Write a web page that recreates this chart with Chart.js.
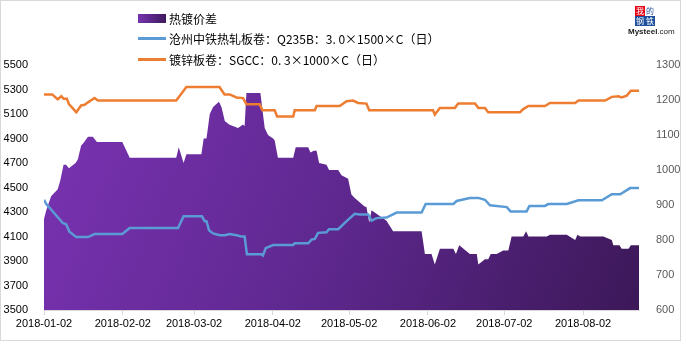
<!DOCTYPE html>
<html>
<head>
<meta charset="utf-8">
<script src="https://cdn.jsdelivr.net/npm/chart.js@4.4.1/dist/chart.umd.min.js"></script>
<style>
  html, body { margin: 0; padding: 0; background: #fff; }
  #wrap { position: relative; width: 682px; height: 342px; overflow: hidden; font-family: "Noto Sans CJK SC", "Liberation Sans", sans-serif; }
  #frame { position: absolute; left: 0; top: 0; width: 679px; height: 339px; border: 1px solid #D9D9D9; pointer-events: none; }
  canvas { position: absolute; left: 0; top: 0; }
  .lg { position: absolute; left: 138px; height: 14px; display: flex; align-items: center; font-size: 12px; color: #000; white-space: pre; }
  .lg .sw { width: 28px; margin-right: 3px; }
  .logo { position: absolute; left: 628px; top: 6px; width: 42px; font-family: "Noto Sans CJK SC", sans-serif; }
  .logo .cells { margin-left: 7px; display: grid; grid-template-columns: 10px 10px; grid-template-rows: 10px 10px; gap: 0; }
  .logo .cells span { font-size: 8px; line-height: 10px; text-align: center; color: #fff; }
  .logo .mt { font-family: "Liberation Sans", Arial, sans-serif; font-size: 8px; line-height: 9px; color: #222; margin-top: 1px; }
</style>
</head>
<body>
<div id="wrap">
  <canvas id="c" width="682" height="342"></canvas>
  <div class="lg" style="top:11px"><span class="sw" style="height:9px;background:linear-gradient(90deg,#7533AE,#3F1A5E)"></span><span id="l0"></span></div>
  <div class="lg" style="top:31px"><span class="sw" style="height:3px;background:#5B9BD5"></span><span id="l1"></span></div>
  <div class="lg" style="top:52px"><span class="sw" style="height:3px;background:#ED7D31"></span><span id="l2"></span></div>
  <div class="logo">
    <div class="cells">
      <span style="background:#E60012">我</span><span style="background:#fff;color:#1D4F9C">的</span>
      <span style="background:#1D4F9C">钢</span><span style="background:#1D4F9C">铁</span>
    </div>
    <div class="mt"><b>Mysteel</b>.com</div>
  </div>
  <div id="frame"></div>
</div>
<script>
// Series names
const seriesNames = ['热镀价差', '沧州中铁热轧板卷：Q235B：3. 0×1500×C（日）', '镀锌板卷：SGCC：0. 3×1000×C（日）'];

// X positions are days since 2018-01-02
const tickDays = [0, 31, 59, 90, 120, 151, 181, 212];
const tickLabels = ['2018-01-02', '2018-02-02', '2018-03-02', '2018-04-02', '2018-05-02', '2018-06-02', '2018-07-02', '2018-08-02'];
const lastDay = 234;

// 镀锌板卷 SGCC (left axis)
const galvDays = [0, 3.2, 5.4, 6.8, 7.7, 9, 9.8, 12.7, 14.6, 16, 17.3, 19.9, 21.2, 52, 56, 69, 71, 73, 75.7, 78.3, 79.6, 84.8, 85.9, 90.7, 91.7, 98, 98.6, 106.5, 107.2, 116.3, 119, 121.6, 123.5, 126.8, 127.9, 153, 153.7, 155.7, 161.6, 162.9, 169.5, 170.8, 173.4, 174.7, 187.2, 188.5, 190.5, 197, 199, 208.9, 210.2, 220.7, 223.3, 225.9, 227.2, 229.2, 230.8, 234];
const galvPrice = [5260, 5260, 5220, 5245, 5225, 5225, 5180, 5115, 5170, 5175, 5195, 5230, 5210, 5210, 5320, 5320, 5260, 5260, 5235, 5230, 5180, 5180, 5130, 5130, 5080, 5080, 5130, 5130, 5165, 5165, 5205, 5210, 5190, 5185, 5130, 5130, 5095, 5150, 5150, 5185, 5185, 5150, 5150, 5115, 5115, 5140, 5165, 5165, 5190, 5190, 5210, 5210, 5240, 5245, 5235, 5250, 5290, 5290];

// 沧州中铁热轧板卷 Q235B (left axis)
const hrcDays = [0, 0.9, 7.4, 8.7, 10, 12.7, 17.3, 19.9, 30.8, 33.7, 52.7, 54.9, 62.1, 63.2, 63.9, 64.9, 66.5, 69.1, 71.1, 73, 75.7, 77.6, 78.9, 79.8, 85.5, 86.1, 87.2, 90.1, 98, 98.6, 103.9, 105.2, 106.5, 107.8, 111.1, 112.1, 115.7, 119, 122.2, 124.2, 127.5, 128.8, 130.8, 134.7, 138.7, 148.5, 150.1, 161, 162.3, 167.5, 170.8, 173.4, 175.4, 182, 183.5, 189.8, 190.9, 197, 198.3, 205.6, 210.2, 219.4, 223.3, 226.6, 230.5, 234];
const hrcPrice = [4400, 4365, 4210, 4200, 4140, 4095, 4095, 4120, 4120, 4170, 4170, 4265, 4265, 4225, 4225, 4150, 4125, 4110, 4110, 4120, 4110, 4100, 4100, 3955, 3955, 3945, 4005, 4030, 4030, 4045, 4045, 4075, 4080, 4130, 4135, 4160, 4160, 4225, 4285, 4280, 4280, 4230, 4250, 4255, 4295, 4295, 4365, 4365, 4390, 4415, 4415, 4400, 4355, 4340, 4305, 4305, 4350, 4350, 4365, 4365, 4395, 4395, 4445, 4445, 4495, 4495];

// 热镀价差 (right axis)
const spreadDays = [0, 0.9, 2.8, 5.4, 6.4, 7.7, 8.7, 9.8, 12.4, 13.3, 14.6, 15.3, 17.3, 19.2, 20.8, 30.8, 33.7, 52, 53, 54.9, 56, 61.9, 62.8, 63.9, 65.2, 66.5, 68.8, 69.8, 71.1, 72.8, 76.3, 78.3, 78.9, 79.6, 85.1, 86.8, 88.1, 90.1, 90.7, 92, 98, 99, 103.9, 104.8, 106.1, 107.2, 108.2, 111.1, 112.1, 115.7, 117, 119.6, 120.9, 122.2, 126.2, 126.8, 127.9, 128.8, 134.7, 137.3, 148.5, 149.8, 152.4, 153.7, 155.7, 161, 162, 163.3, 167.5, 170.2, 170.8, 173.4, 174.7, 175.7, 178, 180.6, 182.6, 183.9, 188.5, 189.6, 190.5, 197.7, 199, 205.6, 208.9, 209.8, 210.9, 220, 223.3, 223.9, 226.3, 227.2, 229.9, 230.8, 234];
const spreadVals = [860, 885, 925, 945, 970, 1015, 1015, 1005, 1020, 1030, 1070, 1075, 1095, 1095, 1080, 1080, 1035, 1035, 1065, 1020, 1045, 1045, 1090, 1090, 1160, 1180, 1195, 1180, 1140, 1130, 1120, 1130, 1125, 1220, 1220, 1120, 1100, 1090, 1085, 1035, 1035, 1065, 1065, 1050, 1055, 1055, 1020, 1015, 1000, 1000, 985, 975, 930, 920, 895, 895, 850, 885, 855, 825, 825, 760, 760, 730, 775, 775, 760, 785, 760, 760, 730, 745, 745, 760, 760, 770, 770, 810, 810, 825, 810, 810, 815, 815, 800, 815, 810, 810, 800, 785, 785, 775, 775, 785, 785];

document.getElementById('l0').textContent = seriesNames[0];
document.getElementById('l1').textContent = seriesNames[1];
document.getElementById('l2').textContent = seriesNames[2];

const pts = (xs, ys) => xs.map((x, i) => ({ x: x, y: ys[i] }));

const areaFill = (context) => {
  const chart = context.chart;
  const area = chart.chartArea;
  if (!area) return '#6A2EA0';
  const g = chart.ctx.createLinearGradient(area.left, area.top, area.right, area.bottom);
  g.addColorStop(0, '#7B33B4');
  g.addColorStop(0.5, '#5F2890');
  g.addColorStop(1, '#3C1858');
  return g;
};

const tickFont = { family: '"Liberation Sans", Arial, sans-serif', size: 11 };
const plain = (v) => String(v);

new Chart(document.getElementById('c'), {
  type: 'line',
  data: {
    datasets: [
      { label: seriesNames[0], data: pts(spreadDays, spreadVals), yAxisID: 'yR', fill: 'start', backgroundColor: areaFill, borderWidth: 0, pointRadius: 0, tension: 0, order: 10 },
      { label: seriesNames[1], data: pts(hrcDays, hrcPrice), yAxisID: 'yL', borderColor: '#5B9BD5', borderWidth: 2.5, pointRadius: 0, tension: 0, fill: false, order: 1 },
      { label: seriesNames[2], data: pts(galvDays, galvPrice), yAxisID: 'yL', borderColor: '#ED7D31', borderWidth: 2.5, pointRadius: 0, tension: 0, fill: false, order: 1 }
    ]
  },
  options: {
    responsive: false,
    animation: false,
    layout: { padding: { top: 65, left: 0, right: 0, bottom: 0 } },
    plugins: { legend: { display: false }, tooltip: { enabled: false } },
    scales: {
      x: {
        type: 'linear', min: 0, max: lastDay,
        afterBuildTicks: (s) => { s.ticks = tickDays.map(v => ({ value: v })); },
        afterFit: (s) => { s.height = 32; },
        grid: { display: true, drawOnChartArea: false, drawTicks: true, tickLength: 5, color: '#D9D9D9' },
        border: { display: true, color: '#D9D9D9' },
        ticks: { autoSkip: false, maxRotation: 0, padding: 2, color: '#000', font: tickFont,
          callback: (v) => { const i = tickDays.indexOf(v); return i >= 0 ? tickLabels[i] : ''; } }
      },
      yL: {
        position: 'left', min: 3500, max: 5500,
        afterFit: (s) => { s.width = 44; },
        grid: { display: false }, border: { display: false },
        ticks: { stepSize: 200, padding: 8, color: '#000', font: tickFont, callback: plain }
      },
      yR: {
        position: 'right', min: 600, max: 1300,
        afterFit: (s) => { s.width = 43; },
        grid: { display: false }, border: { display: false },
        ticks: { stepSize: 100, padding: 9, color: '#595959', font: tickFont, callback: plain }
      }
    }
  }
});
</script>
</body>
</html>
